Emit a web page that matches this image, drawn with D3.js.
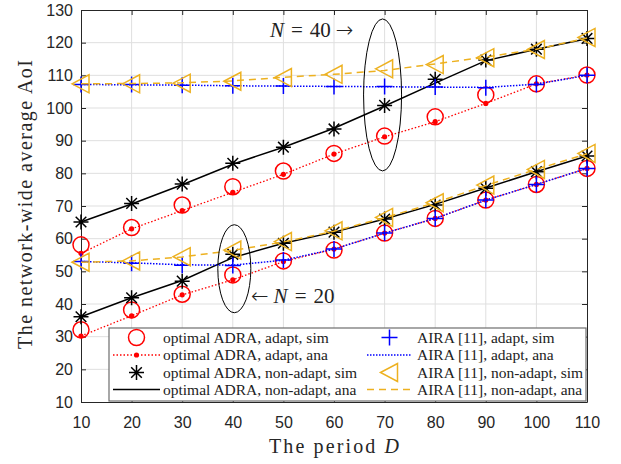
<!DOCTYPE html>
<html>
<head>
<meta charset="utf-8">
<script src="https://cdn.jsdelivr.net/npm/d3@7"></script>
<style>
  body { margin: 0; background: #fff; }
  svg { display: block; }
</style>
</head>
<body>
<script>
// period D on the x axis
var periods = [10, 20, 30, 40, 50, 60, 70, 80, 90, 100, 110];
var xTicks = [10, 20, 30, 40, 50, 60, 70, 80, 90, 100, 110];
var yTicks = [10, 20, 30, 40, 50, 60, 70, 80, 90, 100, 110, 120, 130];

// N = 40
var adraAdaptSim40 = [58.1, 63.4, 70.3, 75.9, 80.7, 86.1, 91.4, 97.3, 104.0, 107.4, 110.1];
var adraAdaptAna40 = [55.5, 63.0, 68.6, 74.2, 79.7, 85.9, 91.2, 95.8, 101.4, 107.4, 110.1];
var adraNonSim40 = [65.1, 70.8, 76.7, 83.1, 88.0, 93.6, 100.8, 108.8, 114.7, 118.0, 121.3];
var adraNonAna40 = [65.1, 70.6, 76.5, 82.8, 88.0, 93.8, 100.6, 107.6, 114.5, 118.0, 121.2];
var airaAdaptSim40 = [107.2, 107.2, 107.0, 106.8, 106.7, 106.6, 106.6, 106.4, 106.2, 107.2, 110.0];
var airaAdaptAna40 = [107.2, 107.1, 107.0, 106.8, 106.7, 106.6, 106.5, 106.4, 106.3, 107.3, 110.0];
var airaNonSim40 = [107.4, 107.4, 107.6, 108.2, 109.3, 110.3, 112.0, 113.3, 115.4, 117.9, 121.6];
var airaNonAna40 = [107.4, 107.5, 107.7, 108.3, 109.4, 110.3, 111.5, 113.5, 115.6, 118.0, 121.4];

// N = 20
var adraAdaptSim20 = [32.1, 38.2, 43.0, 48.9, 53.2, 56.5, 61.7, 66.2, 71.8, 76.6, 81.5];
var adraAdaptAna20 = [30.2, 36.4, 42.8, 47.4, 53.0, 56.8, 61.7, 66.2, 71.8, 76.6, 81.5];
var adraNonSim20 = [36.1, 41.9, 47.0, 55.2, 58.6, 62.0, 66.0, 70.3, 75.4, 80.5, 85.3];
var adraNonAna20 = [36.1, 41.9, 47.2, 54.2, 58.6, 62.0, 66.0, 70.5, 75.5, 80.5, 85.3];
var airaAdaptSim20 = [53.0, 52.5, 51.9, 51.8, 53.5, 56.8, 61.7, 66.2, 71.8, 76.6, 81.5];
var airaAdaptAna20 = [53.0, 52.6, 52.0, 51.9, 53.4, 56.8, 61.7, 66.2, 71.8, 76.6, 81.5];
var airaNonSim20 = [52.8, 53.2, 54.5, 56.5, 59.1, 62.4, 66.5, 71.0, 76.4, 81.2, 86.1];
var airaNonAna20 = [52.8, 53.2, 54.4, 56.4, 59.0, 62.3, 66.4, 71.0, 76.3, 81.2, 86.0];

var legendLabels = [
  "optimal ADRA, adapt, sim", "optimal ADRA, adapt, ana",
  "optimal ADRA, non-adapt, sim", "optimal ADRA, non-adapt, ana",
  "AIRA [11], adapt, sim", "AIRA [11], adapt, ana",
  "AIRA [11], non-adapt, sim", "AIRA [11], non-adapt, ana"
];

var W = 621, H = 464;
var margin = {left: 81, right: 34, top: 10, bottom: 62};
var orange = "#EDB120";
var serif = "'Liberation Serif', 'DejaVu Serif', serif";
var sans = "'Liberation Sans', Arial, sans-serif";

var svg = d3.select("body").append("svg")
  .attr("width", W)
  .attr("height", H);
svg.append("rect").attr("width", W).attr("height", H).attr("fill", "#fff");

var x = d3.scaleLinear().domain([10, 110]).range([margin.left, W - margin.right]);
var y = d3.scaleLinear().domain([10, 130]).range([H - margin.bottom, margin.top]);

//grid
var grid = svg.append("g");
grid.selectAll(".gx").data(xTicks.slice(1, -1)).enter().append("line")
  .attr("x1", function(d){return x(d);}).attr("x2", function(d){return x(d);})
  .attr("y1", y(10)).attr("y2", y(130))
  .style("stroke", "#dfdfdf").style("stroke-width", "1px");
grid.selectAll(".gy").data(yTicks.slice(1, -1)).enter().append("line")
  .attr("y1", function(d){return y(d);}).attr("y2", function(d){return y(d);})
  .attr("x1", x(10)).attr("x2", x(110))
  .style("stroke", "#dfdfdf").style("stroke-width", "1px");

//axes, MATLAB style box with inward ticks
var axisColor = "#262626";
var xAxis = svg.append("g").attr("transform", "translate(0," + y(10) + ")")
  .call(d3.axisBottom(x).tickValues(xTicks).tickSizeInner(-5).tickSizeOuter(0).tickPadding(15));
var yAxis = svg.append("g").attr("transform", "translate(" + x(10) + ",0)")
  .call(d3.axisLeft(y).tickValues(yTicks).tickSizeInner(-5).tickSizeOuter(0).tickPadding(8));
var xTop = svg.append("g").attr("transform", "translate(0," + y(130) + ")")
  .call(d3.axisTop(x).tickValues(xTicks).tickSizeInner(-5).tickSizeOuter(0).tickFormat(""));
var yRight = svg.append("g").attr("transform", "translate(" + x(110) + ",0)")
  .call(d3.axisRight(y).tickValues(yTicks).tickSizeInner(-5).tickSizeOuter(0).tickFormat(""));
[xAxis, yAxis, xTop, yRight].forEach(function(a){
  a.selectAll("path, line").style("stroke", axisColor).style("stroke-width", "1px");
  a.selectAll("text").style("fill", axisColor).style("font-family", sans).style("font-size", "16px");
});

//axis titles
svg.append("text")
  .attr("x", 269).attr("y", 453)
  .attr("textLength", 130).attr("lengthAdjust", "spacing")
  .style("font-family", serif).style("font-size", "20px").style("fill", axisColor)
  .html("The period <tspan font-style='italic'>D</tspan>");
svg.append("text")
  .attr("transform", "translate(32,349) rotate(-90)")
  .attr("textLength", 289).attr("lengthAdjust", "spacing")
  .style("font-family", serif).style("font-size", "20px").style("fill", axisColor)
  .text("The network-wide average AoI");

var plot = svg.append("g");

function drawLine(vals, color, dash, width){
  var line = d3.line().x(function(d, i){return x(periods[i]);}).y(function(d){return y(d);});
  plot.append("path").datum(vals)
    .attr("d", line)
    .attr("fill", "none")
    .attr("stroke", color)
    .attr("stroke-width", width)
    .attr("stroke-dasharray", dash);
}

function marker(g, type, cx, cy){
  if(type === "circle"){
    g.append("circle").attr("cx", cx).attr("cy", cy).attr("r", 8)
      .attr("fill", "none").attr("stroke", "#ff0000").attr("stroke-width", 1.5);
  } else if(type === "dot"){
    g.append("circle").attr("cx", cx).attr("cy", cy).attr("r", 2.6).attr("fill", "#ff0000");
  } else if(type === "plus"){
    g.append("path").attr("d", "M" + (cx - 8) + "," + cy + "H" + (cx + 8) + "M" + cx + "," + (cy - 8) + "V" + (cy + 8))
      .attr("stroke", "#0000ff").attr("stroke-width", 1.5);
  } else if(type === "star"){
    var s = 7.5, d = 5.3;
    g.append("path").attr("d", "M" + (cx - s) + "," + cy + "H" + (cx + s) +
        "M" + cx + "," + (cy - s) + "V" + (cy + s) +
        "M" + (cx - d) + "," + (cy - d) + "L" + (cx + d) + "," + (cy + d) +
        "M" + (cx - d) + "," + (cy + d) + "L" + (cx + d) + "," + (cy - d))
      .attr("stroke", "#000").attr("stroke-width", 1.5);
  } else if(type === "tri"){
    g.append("path").attr("d", "M" + (cx - 9) + "," + cy + "L" + (cx + 8) + "," + (cy - 9) + "L" + (cx + 8) + "," + (cy + 9) + "Z")
      .attr("fill", "none").attr("stroke", orange).attr("stroke-width", 1.5);
  }
}

function drawMarkers(vals, type){
  var g = plot.append("g");
  vals.forEach(function(v, i){ marker(g, type, x(periods[i]), y(v)); });
}

var groups = [
  [adraAdaptSim40, adraAdaptAna40, adraNonSim40, adraNonAna40, airaAdaptSim40, airaAdaptAna40, airaNonSim40, airaNonAna40],
  [adraAdaptSim20, adraAdaptAna20, adraNonSim20, adraNonAna20, airaAdaptSim20, airaAdaptAna20, airaNonSim20, airaNonAna20]
];
groups.forEach(function(s){
  drawMarkers(s[0], "circle");
  drawLine(s[1], "#ff0000", "1.5,2", 1.3);
  drawMarkers(s[1], "dot");
  drawMarkers(s[2], "star");
  drawLine(s[3], "#000", null, 1.5);
  drawMarkers(s[4], "plus");
  drawLine(s[5], "#0000ff", "1.5,1.5", 1.5);
  drawMarkers(s[6], "tri");
  drawLine(s[7], orange, "7,5", 1.5);
});

//ellipses and annotations
plot.append("ellipse").attr("cx", x(69.6)).attr("cy", y(104))
  .attr("rx", 19).attr("ry", 76).attr("fill", "none").attr("stroke", "#000").attr("stroke-width", 1);
plot.append("ellipse").attr("cx", x(40.3)).attr("cy", y(50.8))
  .attr("rx", 16.5).attr("ry", 44).attr("fill", "none").attr("stroke", "#000").attr("stroke-width", 1);

var arrowFont = "'DejaVu Sans', sans-serif";
var t40 = svg.append("text").attr("x", 270).attr("y", 37)
  .style("font-family", serif).style("font-size", "21px").style("fill", "#222");
t40.append("tspan").attr("font-style", "italic").text("N");
t40.append("tspan").attr("dx", 7).text("=");
t40.append("tspan").attr("dx", 7).text("40");
t40.append("tspan").attr("dx", 5).style("font-family", arrowFont).style("font-weight", 300).text("\u2192");

var t20 = svg.append("text").attr("x", 251).attr("y", 303)
  .style("font-family", serif).style("font-size", "21px").style("fill", "#222");
t20.append("tspan").style("font-family", arrowFont).style("font-weight", 300).text("\u2190");
t20.append("tspan").attr("dx", 5).attr("font-style", "italic").text("N");
t20.append("tspan").attr("dx", 7).text("=");
t20.append("tspan").attr("dx", 7).text("20");

//legend
var leg = svg.append("g");
leg.append("rect").attr("x", 109).attr("y", 328).attr("width", 477).attr("height", 73)
  .attr("fill", "#fff").attr("stroke", "#6e6e6e").attr("stroke-width", 1.2);
var rowY = [337.5, 355, 372.5, 389.5];
var cols = [{x1: 113, x2: 160, tx: 163}, {x1: 367, x2: 412, tx: 417}];
var legItems = [
  {m: "circle"}, {line: "#ff0000", dash: "1.5,2", m: "dot"},
  {m: "star"}, {line: "#000", dash: null},
  {m: "plus"}, {line: "#0000ff", dash: "1.5,1.5"},
  {m: "tri"}, {line: orange, dash: "7,5"}
];
legItems.forEach(function(it, i){
  var c = cols[Math.floor(i / 4)], ry = rowY[i % 4], mx = (c.x1 + c.x2) / 2;
  if(it.line){
    leg.append("line").attr("x1", c.x1).attr("x2", c.x2).attr("y1", ry).attr("y2", ry)
      .attr("stroke", it.line).attr("stroke-width", 1.5).attr("stroke-dasharray", it.dash);
  }
  if(it.m){ marker(leg, it.m, mx, ry); }
  leg.append("text").attr("x", c.tx).attr("y", ry + 5)
    .style("font-family", serif).style("font-size", "15.5px").style("fill", "#222")
    .text(legendLabels[i]);
});
</script>
</body>
</html>
